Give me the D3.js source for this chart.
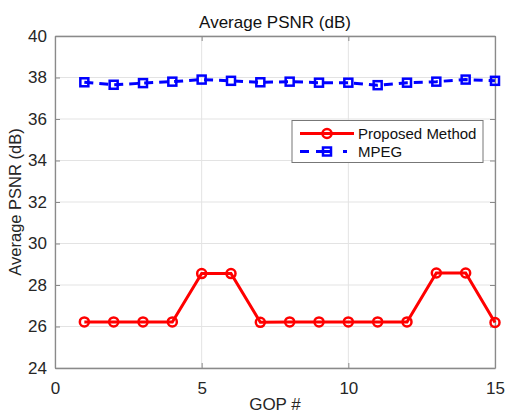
<!DOCTYPE html>
<html><head><meta charset="utf-8">
<script src="https://cdn.jsdelivr.net/npm/d3@7"></script>
<style>body{margin:0;background:#fff}svg{display:block}text{font-family:Arial,"Liberation Sans",sans-serif}</style>
</head><body><svg id="c" width="506" height="413"></svg>
<script>
const gop = [1,2,3,4,5,6,7,8,9,10,11,12,13,14,15];
const proposed = [26.22,26.22,26.22,26.22,28.55,28.55,26.2,26.22,26.22,26.22,26.22,26.22,28.58,28.58,26.19];
const mpeg = [37.77,37.65,37.73,37.8,37.9,37.84,37.77,37.8,37.75,37.75,37.63,37.75,37.8,37.9,37.84];
const xTicks = [0,5,10,15];
const yTicks = [24,26,28,30,32,34,36,38,40];
const seriesNames = ["Proposed Method","MPEG"];
const titleText = "Average PSNR (dB)";
const xLabel = "GOP #";
const yLabel = "Average PSNR (dB)";

const L=55,R=495,T=36,B=368;
const svg=d3.select("#c");
const x=d3.scaleLinear().domain([0,15]).range([L,R]);
const y=d3.scaleLinear().domain([24,40]).range([B,T]);

// grid
svg.append("g").selectAll("line").data(xTicks).join("line")
 .attr("x1",d=>x(d)).attr("x2",d=>x(d)).attr("y1",T).attr("y2",B)
 .attr("stroke","#e3e3e3").attr("stroke-width",1);
svg.append("g").selectAll("line").data(yTicks).join("line")
 .attr("y1",d=>y(d)).attr("y2",d=>y(d)).attr("x1",L).attr("x2",R)
 .attr("stroke","#e3e3e3").attr("stroke-width",1);

// axes
const ax=svg.append("g").attr("transform",`translate(0,${B})`)
 .call(d3.axisBottom(x).tickValues(xTicks).tickSizeInner(-5).tickSizeOuter(0).tickPadding(14));
const ay=svg.append("g").attr("transform",`translate(${L},0)`)
 .call(d3.axisLeft(y).tickValues(yTicks).tickSizeInner(-5).tickSizeOuter(0).tickPadding(8));
const axT=svg.append("g").attr("transform",`translate(0,${T})`)
 .call(d3.axisTop(x).tickValues(xTicks).tickSizeInner(-5).tickSizeOuter(0).tickFormat(""));
const ayR=svg.append("g").attr("transform",`translate(${R},0)`)
 .call(d3.axisRight(y).tickValues(yTicks).tickSizeInner(-5).tickSizeOuter(0).tickFormat(""));
[ax,ay,axT,ayR].forEach(g=>{
 g.select(".domain").attr("stroke","#8a8a8a").attr("stroke-width",1.3);
 g.selectAll(".tick line").attr("stroke","#8a8a8a").attr("stroke-width",1);
 g.selectAll(".tick text").attr("fill","#262626").style("font-size","17px").style("font-family","Arial,'Liberation Sans',sans-serif");
});

// lines
const line=(arr)=>d3.line().x((d,i)=>x(gop[i])).y(d=>y(d))(arr);
svg.append("path").attr("d",line(mpeg)).attr("fill","none").attr("stroke","#0000ff")
 .attr("stroke-width",3).attr("stroke-dasharray","9,6");
svg.append("g").selectAll("rect").data(mpeg).join("rect")
 .attr("x",(d,i)=>x(gop[i])-4).attr("y",d=>y(d)-4).attr("width",8).attr("height",8)
 .attr("fill","none").attr("stroke","#0000ff").attr("stroke-width",2.5);
svg.append("path").attr("d",line(proposed)).attr("fill","none").attr("stroke","#ff0000").attr("stroke-width",3);
svg.append("g").selectAll("circle").data(proposed).join("circle")
 .attr("cx",(d,i)=>x(gop[i])).attr("cy",d=>y(d)).attr("r",4.5)
 .attr("fill","none").attr("stroke","#ff0000").attr("stroke-width",2.5);

// title & labels
svg.append("text").attr("x",(L+R)/2).attr("y",28).attr("text-anchor","middle")
 .attr("fill","#111").style("font-size","17px").text(titleText);
svg.append("text").attr("x",275).attr("y",409.5).attr("text-anchor","middle")
 .attr("fill","#262626").style("font-size","17px").text(xLabel);
svg.append("text").attr("transform",`translate(21,${(T+B)/2}) rotate(-90)`).attr("text-anchor","middle")
 .attr("fill","#262626").style("font-size","16.5px").text(yLabel);

// legend
const lg=svg.append("g");
lg.append("rect").attr("x",292).attr("y",120.5).attr("width",191).attr("height",42)
 .attr("fill","#fff").attr("stroke","#777").attr("stroke-width",1);
const rows=[133.5,151.5];
lg.append("line").attr("x1",300).attr("x2",354).attr("y1",rows[0]).attr("y2",rows[0])
 .attr("stroke","#ff0000").attr("stroke-width",3);
lg.append("circle").attr("cx",327).attr("cy",rows[0]).attr("r",4.5).attr("fill","none")
 .attr("stroke","#ff0000").attr("stroke-width",2.5);
lg.append("line").attr("x1",300).attr("x2",354).attr("y1",rows[1]).attr("y2",rows[1])
 .attr("stroke","#0000ff").attr("stroke-width",3).attr("stroke-dasharray","9,7,14,13,4");
lg.append("rect").attr("x",323).attr("y",rows[1]-4).attr("width",8).attr("height",8).attr("fill","none")
 .attr("stroke","#0000ff").attr("stroke-width",2.5);
lg.selectAll("text.l").data(seriesNames).join("text").attr("class","l")
 .attr("x",358).attr("y",(d,i)=>rows[i]+5.5).attr("fill","#111").style("font-size","15px").text(d=>d);
</script></body></html>
